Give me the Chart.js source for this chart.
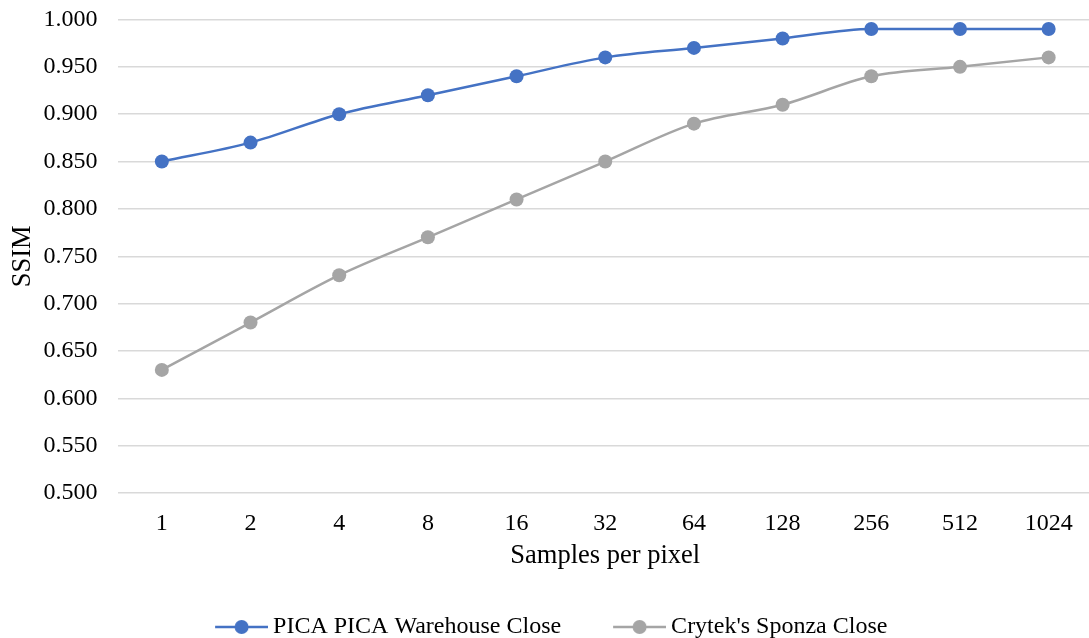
<!DOCTYPE html>
<html>
<head>
<meta charset="utf-8">
<script src="https://cdn.jsdelivr.net/npm/chart.js@4/dist/chart.umd.min.js"></script>
<style>
  html, body { margin: 0; padding: 0; background: #fff; overflow: hidden; }
  canvas { display: block; }
</style>
</head>
<body>
<canvas id="chart" width="1100" height="638"></canvas>
<script>
const samples = ["1", "2", "4", "8", "16", "32", "64", "128", "256", "512", "1024"];
const picaWarehouse = [0.85, 0.87, 0.90, 0.92, 0.94, 0.96, 0.97, 0.98, 0.99, 0.99, 0.99];
const sponza = [0.63, 0.68, 0.73, 0.77, 0.81, 0.85, 0.89, 0.91, 0.94, 0.95, 0.96];
const yTicks = [0.5, 1.0, 0.05];

const FONT = "'Liberation Serif', 'Times New Roman', serif";

// legend marker: short line with a dot, sitting at the right end of the image
function marker(color) {
  const c = document.createElement("canvas");
  c.width = 82; c.height = 16;
  const g = c.getContext("2d");
  g.strokeStyle = color; g.lineWidth = 2.5;
  g.beginPath(); g.moveTo(29, 8); g.lineTo(82, 8); g.stroke();
  g.fillStyle = color;
  g.beginPath(); g.arc(55.5, 8, 7, 0, Math.PI * 2); g.fill();
  return c;
}

const ds = (label, data, color) => ({
  label, data,
  borderColor: color, backgroundColor: color,
  borderWidth: 2.5, pointRadius: 7, pointHoverRadius: 7,
  pointBorderWidth: 0, cubicInterpolationMode: "monotone",
  pointStyle: "circle"
});

new Chart(document.getElementById("chart"), {
  type: "line",
  data: {
    labels: samples,
    datasets: [
      ds("PICA PICA Warehouse Close", picaWarehouse, "#4472C4"),
      ds("Crytek's Sponza Close", sponza, "#A5A5A5")
    ]
  },
  options: {
    responsive: false,
    animation: false,
    layout: { padding: { top: 19.5, right: 4.5, left: -15, bottom: -11 } },
    plugins: {
      tooltip: { enabled: false },
      legend: {
        position: "bottom",
        labels: {
          font: { family: FONT, size: 24 },
          color: "#000",
          padding: 30,
          usePointStyle: true,
          pointStyleWidth: 68,
          generateLabels(chart) {
            return chart.data.datasets.map((d, i) => ({
              text: d.label,
              pointStyle: marker(d.borderColor),
              fillStyle: d.borderColor,
              strokeStyle: d.borderColor,
              lineWidth: 0,
              hidden: false,
              datasetIndex: i,
              fontColor: "#000"
            }));
          }
        }
      }
    },
    scales: {
      x: {
        offset: true,
        grid: { display: false },
        border: { display: false },
        ticks: { font: { family: FONT, size: 24 }, color: "#000", padding: 8, maxRotation: 0 },
        title: { display: true, text: "Samples per pixel", font: { family: FONT, size: 26.5 }, color: "#000", padding: { top: 0, bottom: 13 } },
        afterFit(s) { s.height = 92; }
      },
      y: {
        min: yTicks[0], max: yTicks[1],
        grid: { color: "#D9D9D9", lineWidth: 1.5, drawTicks: false },
        border: { display: false },
        ticks: {
          stepSize: yTicks[2],
          font: { family: FONT, size: 24 }, color: "#000", padding: 20,
          callback: v => Number(v).toFixed(3)
        },
        title: { display: true, text: "SSIM", font: { family: FONT, size: 26.5 }, color: "#000", padding: { top: 22, bottom: 0 } },
        afterFit(s) { s.width = 132.5; s.paddingTop = 14; s.paddingBottom = 14; }
      }
    }
  }
});
</script>
</body>
</html>
